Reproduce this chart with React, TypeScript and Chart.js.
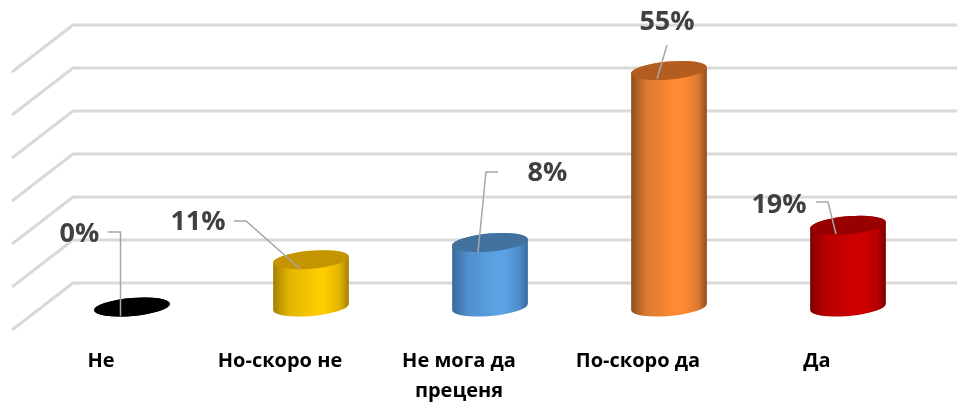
import React, { useEffect, useRef } from "react";
import { Chart, registerables } from "chart.js";

Chart.register(...registerables);

const categories = [["Не"], ["Но-скоро не"], ["Не мога да", "преценя"], ["По-скоро да"], ["Да"]];
const barValues = [0, 11, 15, 55, 19];
const valueLabels = ["0%", "11%", "8%", "55%", "19%"];

const capColors = ["#000000", "#c49500", "#41719c", "#b35d20", "#990000"];
const edgeColors = ["#000000", "#a67e00", "#38699a", "#8f4d1c", "#7d0000"];
const shoulderColors = ["#000000", "#e0b300", "#4f8ecb", "#dc7a30", "#b80000"];
const midColors = ["#000000", "#ffcc00", "#5ba3e4", "#ff8a35", "#cc0000"];

// Layout offsets, relative to each bar's top centre
const labelOffsets = [[-52.5, -73], [-113, -37], [57.5, -69.5], [-2, -48.5], [-69, -20.3]];
const leaderOffsets = [
  [[-24.5, -75], [-11.5, -75], [-11.5, 9]],
  [[-77, -38.7], [-65, -38.7], [-11, 9]],
  [[8, -70.5], [-4, -70.5], [-12, 9.5]],
  [[-2, -25.5], [-12, 8.5]],
  [[-32, -23.3], [-20, -23.3], [-12, 8.7]],
];

const WALL_DX = -61;
const WALL_DY = 47;
const BACK_OFFSET = -24;
const BACK_LEFT = 73;
const BACK_RIGHT = 957;
const TILT = -0.087;
const RY = 9;

const scene = {
  id: "scene",
  beforeDatasetsDraw(chart: any) {
    const { ctx } = chart;
    const y = chart.scales.y;
    ctx.save();
    ctx.strokeStyle = "#d9d9d9";
    ctx.lineWidth = 3;
    ctx.lineCap = "butt";
    ctx.lineJoin = "round";
    y.ticks.forEach((t: any) => {
      const yy = y.getPixelForValue(t.value) + BACK_OFFSET;
      ctx.beginPath();
      ctx.moveTo(BACK_LEFT + WALL_DX, yy + WALL_DY);
      ctx.lineTo(BACK_LEFT, yy);
      ctx.lineTo(BACK_RIGHT, yy);
      ctx.stroke();
    });
    ctx.restore();
  },
  beforeDatasetDraw() {
    return false;
  },
  afterDatasetsDraw(chart: any) {
    const { ctx } = chart;
    const meta = chart.getDatasetMeta(0);
    meta.data.forEach((bar: any, i: number) => {
      const { x, y, base, width } = bar.getProps(["x", "y", "base", "width"], true);
      const rx = width / 2;
      const g = ctx.createLinearGradient(x - rx, 0, x + rx, 0);
      g.addColorStop(0, edgeColors[i]);
      g.addColorStop(0.2, shoulderColors[i]);
      g.addColorStop(0.58, midColors[i]);
      g.addColorStop(0.68, midColors[i]);
      g.addColorStop(0.88, shoulderColors[i]);
      g.addColorStop(1, edgeColors[i]);
      ctx.save();
      ctx.fillStyle = g;
      ctx.beginPath();
      ctx.ellipse(x, base, rx, RY, TILT, 0, Math.PI);
      ctx.ellipse(x, y, rx, RY, TILT, Math.PI, Math.PI * 2);
      ctx.closePath();
      ctx.fill();
      ctx.fillStyle = capColors[i];
      ctx.beginPath();
      ctx.ellipse(x, y, rx, RY, TILT, 0, Math.PI * 2);
      ctx.fill();

      ctx.strokeStyle = "#a6a6a6";
      ctx.lineWidth = 1.5;
      ctx.beginPath();
      leaderOffsets[i].forEach(([dx, dy], k) => {
        if (k === 0) ctx.moveTo(x + dx, y + dy);
        else ctx.lineTo(x + dx, y + dy);
      });
      ctx.stroke();

      ctx.fillStyle = "#404040";
      ctx.font = 'bold 27px "Open Sans"';
      ctx.textAlign = "center";
      ctx.textBaseline = "middle";
      ctx.fillText(valueLabels[i], x + labelOffsets[i][0], y + labelOffsets[i][1]);
      ctx.restore();
    });
  },
};

export default function App() {
  const ref = useRef<HTMLCanvasElement | null>(null);
  useEffect(() => {
    const chart = new Chart(ref.current as HTMLCanvasElement, {
      type: "bar",
      data: {
        labels: categories as any,
        datasets: [{ data: barValues, backgroundColor: midColors, barThickness: 76 }],
      },
      plugins: [scene],
      options: {
        responsive: false,
        animation: false,
        layout: { padding: { left: 42.5, right: 19.5, top: 49, bottom: 0 } },
        plugins: { legend: { display: false }, tooltip: { enabled: false } },
        scales: {
          x: {
            afterFit(s: any) {
              s.height = 95;
            },
            grid: { display: false },
            border: { display: false },
            ticks: {
              color: "#000000",
              padding: 31,
              labelOffset: -31,
              maxRotation: 0,
              autoSkip: false,
              font: { family: "Open Sans", weight: "bold", size: 20, lineHeight: 1.5 },
            },
          },
          y: { display: false, min: 0, max: 60, ticks: { stepSize: 10 } },
        },
      } as any,
    });
    return () => chart.destroy();
  }, []);
  return (
    <div style={{ position: "absolute", left: 0, top: 0, width: 957, height: 402 }}>
      <canvas ref={ref} width={957} height={402} style={{ display: "block" }} />
    </div>
  );
}
